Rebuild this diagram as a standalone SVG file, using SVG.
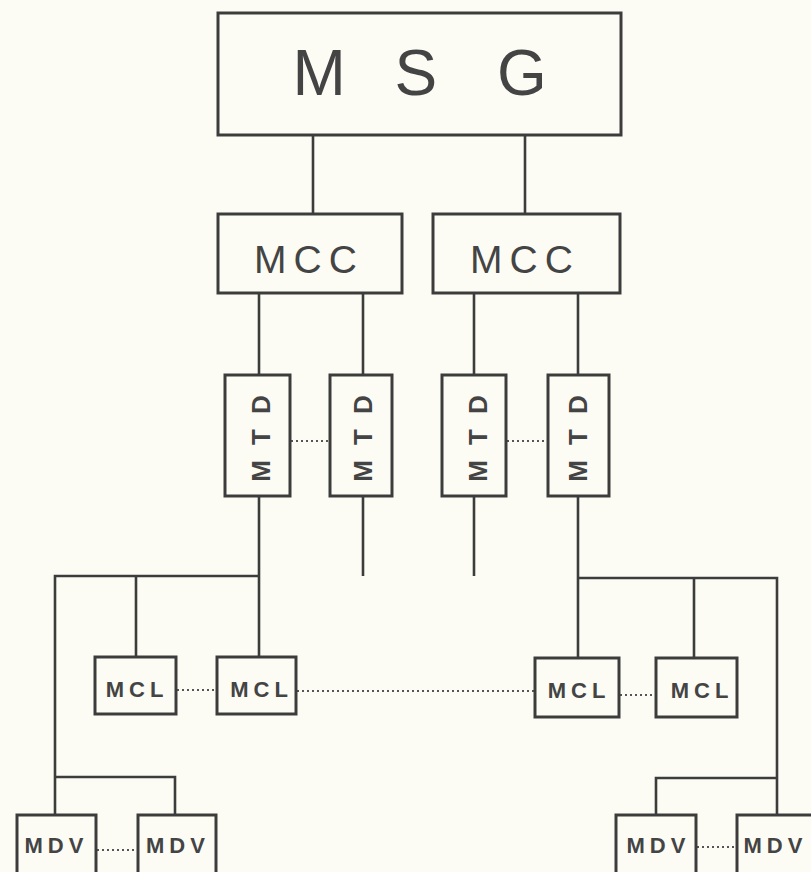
<svg xmlns="http://www.w3.org/2000/svg" width="811" height="872" viewBox="0 0 811 872">
<style>
.box{fill:none;stroke:#3c3c3c;stroke-width:3}
.ln{fill:none;stroke:#3c3c3c;stroke-width:2.6}
.dot{fill:none;stroke:#555;stroke-width:2;stroke-dasharray:2 3}
.big{font-family:"Liberation Sans",Arial,sans-serif;fill:#444}
.bold{font-family:"Liberation Sans",Arial,sans-serif;font-weight:bold;fill:#444}
.mtd{font-size:26px;letter-spacing:15px}
</style>
<rect width="811" height="872" fill="#fcfcf5"/>
<g id="connectors">
<path class="ln" d="M313 135V214M525 135V214"/>
<path class="ln" d="M259 293V375M363 293V375M474 293V375M578 293V375"/>
<path class="ln" d="M259 496V657M363 496V576M474 496V576M578 496V658"/>
<path class="ln" d="M55 815V576H259M136 576V657"/>
<path class="ln" d="M175 815V777H55"/>
<path class="ln" d="M578 578H777V815M694 578V658"/>
<path class="ln" d="M656 815V778H777"/>
<path class="dot" d="M291 441H330M507 441H548"/>
<path class="dot" d="M177 690H217M297 691H535M620 695H656"/>
<path class="dot" d="M97 850H138M697 847H737"/>
</g>
<g id="msg"><rect class="box" x="218" y="13" width="403" height="122"/>
<text class="big" font-size="64" y="95" x="292.5 345 394.6 452 497">M S G</text></g>
<g id="mcc1"><rect class="box" x="218" y="214" width="184" height="79"/>
<text class="big" font-size="39" letter-spacing="7" text-anchor="middle" x="309" y="273">MCC</text></g>
<g id="mcc2"><rect class="box" x="433" y="214" width="187" height="79"/>
<text class="big" font-size="39" letter-spacing="7" text-anchor="middle" x="525" y="273">MCC</text></g>
<g id="mtd1"><rect class="box" x="225" y="375" width="65" height="121"/>
<text class="bold mtd" text-anchor="middle" transform="translate(270,431) rotate(-90)">MTD</text></g>
<g id="mtd2"><rect class="box" x="330" y="375" width="62" height="121"/>
<text class="bold mtd" text-anchor="middle" transform="translate(372,431) rotate(-90)">MTD</text></g>
<g id="mtd3"><rect class="box" x="442" y="375" width="64" height="121"/>
<text class="bold mtd" text-anchor="middle" transform="translate(487,431) rotate(-90)">MTD</text></g>
<g id="mtd4"><rect class="box" x="548" y="375" width="61" height="121"/>
<text class="bold mtd" text-anchor="middle" transform="translate(587,431) rotate(-90)">MTD</text></g>
<g id="mcl1"><rect class="box" x="95" y="657" width="81" height="57"/>
<text class="bold" font-size="22" letter-spacing="5" text-anchor="middle" x="137" y="697">MCL</text></g>
<g id="mcl2"><rect class="box" x="217" y="657" width="79" height="57"/>
<text class="bold" font-size="22" letter-spacing="5" text-anchor="middle" x="261.5" y="697">MCL</text></g>
<g id="mcl3"><rect class="box" x="535" y="658" width="84" height="59"/>
<text class="bold" font-size="22" letter-spacing="5" text-anchor="middle" x="579" y="698">MCL</text></g>
<g id="mcl4"><rect class="box" x="656" y="658" width="81" height="59"/>
<text class="bold" font-size="22" letter-spacing="5" text-anchor="middle" x="702" y="698">MCL</text></g>
<g id="mdv1"><rect class="box" x="17" y="815" width="79" height="70"/>
<text class="bold" font-size="22" letter-spacing="5" text-anchor="middle" x="56.5" y="853">MDV</text></g>
<g id="mdv2"><rect class="box" x="138" y="815" width="78" height="70"/>
<text class="bold" font-size="22" letter-spacing="5" text-anchor="middle" x="178" y="853">MDV</text></g>
<g id="mdv3"><rect class="box" x="616" y="815" width="80" height="70"/>
<text class="bold" font-size="22" letter-spacing="5" text-anchor="middle" x="658.5" y="853">MDV</text></g>
<g id="mdv4"><rect class="box" x="737" y="815" width="90" height="70"/>
<text class="bold" font-size="22" letter-spacing="5" text-anchor="middle" x="775.5" y="853">MDV</text></g>
</svg>
